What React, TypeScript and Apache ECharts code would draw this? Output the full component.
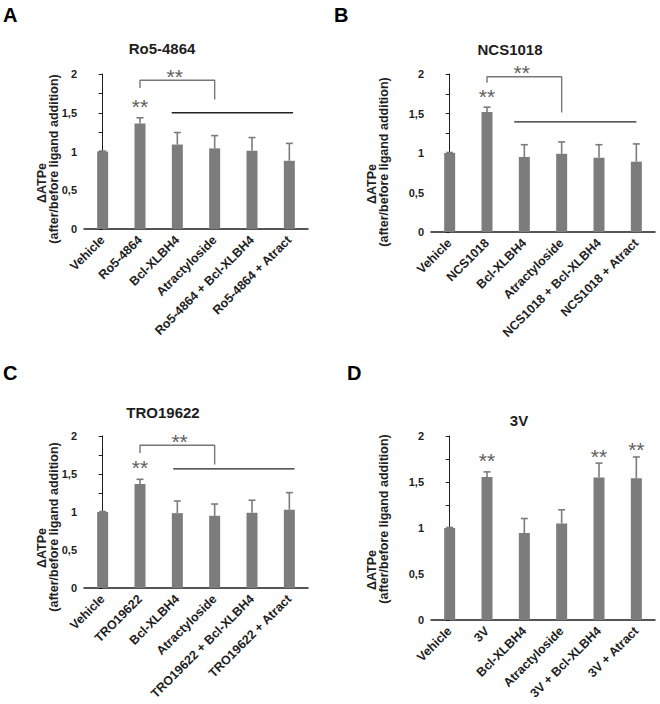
import React, { useEffect, useRef } from 'react';
import * as echarts from 'echarts';

// ---------- data ----------
const categoriesA = ['Vehicle', 'Ro5-4864', 'Bcl-XLBH4', 'Atractyloside', 'Ro5-4864 + Bcl-XLBH4', 'Ro5-4864 + Atract'];
const meansA = [1.0, 1.36, 1.09, 1.04, 1.01, 0.88];
const errA = [0.006, 0.075, 0.155, 0.165, 0.17, 0.225];
const bracketA = [[1, 1.82], [1, 1.92], [3, 1.92], [3, 1.67]];
const sigLineA = [[1.85, 1.5], [5.1, 1.5]];
const starsA = [[1.93, 2.04], [1, 1.66]];

const categoriesB = ['Vehicle', 'NCS1018', 'Bcl-XLBH4', 'Atractyloside', 'NCS1018 + Bcl-XLBH4', 'NCS1018 + Atract'];
const meansB = [1.0, 1.52, 0.95, 0.99, 0.94, 0.89];
const errB = [0.006, 0.06, 0.155, 0.15, 0.165, 0.225];
const bracketB = [[1, 1.89], [1, 1.966], [3, 1.966], [3, 1.513]];
const sigLineB = [[1.73, 1.394], [5.0, 1.394]];
const starsB = [[1.93, 2.09], [1, 1.79]];

const categoriesC = ['Vehicle', 'TRO19622', 'Bcl-XLBH4', 'Atractyloside', 'TRO19622 + Bcl-XLBH4', 'TRO19622 + Atract'];
const meansC = [1.0, 1.37, 0.985, 0.95, 0.99, 1.03];
const errC = [0.006, 0.06, 0.16, 0.155, 0.165, 0.225];
const bracketC = [[1, 1.777], [1, 1.878], [3, 1.878], [3, 1.624]];
const sigLineC = [[1.89, 1.568], [5.14, 1.568]];
const starsC = [[2.06, 2.01], [1, 1.66]];

const categoriesD = ['Vehicle', '3V', 'Bcl-XLBH4', 'Atractyloside', '3V + Bcl-XLBH4', '3V + Atract'];
const meansD = [1.0, 1.555, 0.945, 1.05, 1.55, 1.54];
const errD = [0.006, 0.055, 0.158, 0.148, 0.155, 0.232];
const bracketD: number[][] = [];
const sigLineD: number[][] = [];
const starsD = [[1, 1.8], [4, 1.84], [5, 1.92]];

const panelLetters = ['A', 'B', 'C', 'D'];
const panelTitles = ['Ro5-4864', 'NCS1018', 'TRO19622', '3V'];
const yTicks = [0, 0.5, 1, 1.5, 2];
const yNameLine1 = 'ΔATPe';
const yNameLine2 = '(after/before ligand addition)';
const starText = '**';

const FONT = '"Liberation Sans", Arial, sans-serif';
const BAR = '#7c7c7c';
const INK = '#1e1e1e';

const panels = [
  { cats: categoriesA, means: meansA, err: errA, bracket: bracketA, line: sigLineA, stars: starsA,
    grid: { left: 84, top: 74, width: 224, height: 155 }, letter: [3, 5], title: [162, 41],
    yn1: [42, 183], yn2: [54, 159] },
  { cats: categoriesB, means: meansB, err: errB, bracket: bracketB, line: sigLineB, stars: starsB,
    grid: { left: 431, top: 74, width: 224, height: 158 }, letter: [334, 5], title: [510, 42],
    yn1: [372, 184], yn2: [384, 162] },
  { cats: categoriesC, means: meansC, err: errC, bracket: bracketC, line: sigLineC, stars: starsC,
    grid: { left: 84, top: 436, width: 224, height: 152 }, letter: [3, 363], title: [163, 405],
    yn1: [42, 548], yn2: [54, 527] },
  { cats: categoriesD, means: meansD, err: errD, bracket: bracketD, line: sigLineD, stars: starsD,
    grid: { left: 431, top: 436, width: 224, height: 184 }, letter: [347, 363], title: [519, 413],
    yn1: [372, 570], yn2: [384, 519] },
];

export default function App() {
  const ref = useRef<HTMLDivElement>(null);
  useEffect(() => {
    if (!ref.current) return;
    const chart = echarts.init(ref.current, undefined, { renderer: 'svg' });
    const grid: any[] = [];
    const xAxis: any[] = [];
    const yAxis: any[] = [];
    const series: any[] = [];
    const title: any[] = [];
    const graphic: any[] = [];

    panels.forEach((p, i) => {
      grid.push({ ...p.grid, containLabel: false });
      xAxis.push({
        type: 'category', gridIndex: i, data: p.cats,
        axisLine: { lineStyle: { color: INK, width: 1.5 } },
        axisTick: { show: false },
        axisLabel: { rotate: 45, interval: 0, margin: 9, fontFamily: FONT, fontWeight: 'bold', fontSize: 12.5, color: INK },
      });
      xAxis.push({ type: 'value', gridIndex: i, min: -0.5, max: 5.5, show: false });
      yAxis.push({
        type: 'value', gridIndex: i, min: yTicks[0], max: yTicks[yTicks.length - 1], interval: 0.5,
        axisLine: { show: true, lineStyle: { color: INK, width: 1 } },
        axisTick: { show: true, length: 4, lineStyle: { color: INK } },
        minorTick: { show: true, splitNumber: 2, length: 4, lineStyle: { color: INK } },
        splitLine: { show: false },
        axisLabel: {
          margin: 7, fontFamily: FONT, fontWeight: 'bold', fontSize: 11, color: INK,
          formatter: (v: number) => String(v).replace('.', ','),
        },
      });
      series.push({
        type: 'bar', xAxisIndex: 2 * i, yAxisIndex: i, data: p.means, barWidth: 11,
        itemStyle: { color: BAR }, silent: true,
      });
      series.push({
        type: 'custom', xAxisIndex: 2 * i, yAxisIndex: i, z: 5,
        data: p.means.map((m, k) => [k, m, p.err[k]]),
        encode: { x: 0, y: 1 },
        renderItem: (params: any, api: any) => {
          const k = api.value(0);
          const m = api.value(1);
          const e = api.value(2);
          const b = api.coord([k, m]);
          const t = api.coord([k, m + e]);
          const st = { stroke: BAR, lineWidth: 1.6 };
          return {
            type: 'group',
            children: [
              { type: 'line', shape: { x1: b[0], y1: b[1], x2: t[0], y2: t[1] }, style: st },
              { type: 'line', shape: { x1: t[0] - 3.5, y1: t[1], x2: t[0] + 3.5, y2: t[1] }, style: st },
            ],
          };
        },
      });
      if (p.bracket.length) {
        series.push({
          type: 'line', xAxisIndex: 2 * i + 1, yAxisIndex: i, data: p.bracket, symbol: 'none',
          lineStyle: { color: '#777', width: 1.4 }, silent: true, z: 6,
        });
      }
      if (p.line.length) {
        series.push({
          type: 'line', xAxisIndex: 2 * i + 1, yAxisIndex: i, data: p.line, symbol: 'none',
          lineStyle: { color: '#222', width: 1.4 }, silent: true, z: 6,
        });
      }
      series.push({
        type: 'custom', xAxisIndex: 2 * i + 1, yAxisIndex: i, z: 7, clip: false, silent: true,
        data: p.stars,
        encode: { x: 0, y: 1 },
        renderItem: (params: any, api: any) => {
          const pt = api.coord([api.value(0), api.value(1)]);
          return {
            type: 'text', x: pt[0], y: pt[1] + 6,
            style: {
              text: starText, align: 'center', verticalAlign: 'middle',
              fontFamily: FONT, fontSize: 21, fill: '#606060',
            },
          };
        },
      });
      title.push({
        text: panelLetters[i], left: p.letter[0], top: p.letter[1], padding: 0,
        textStyle: { fontFamily: FONT, fontWeight: 'bold', fontSize: 20, color: '#000' },
      });
      title.push({
        text: panelTitles[i], left: p.title[0], top: p.title[1], padding: 0, textAlign: 'center',
        textStyle: { fontFamily: FONT, fontWeight: 'bold', fontSize: 15, color: INK },
      });
      graphic.push({
        type: 'text', x: p.yn1[0], y: p.yn1[1], rotation: Math.PI / 2,
        style: { text: yNameLine1, align: 'center', verticalAlign: 'middle', fontFamily: FONT, fontWeight: 'bold', fontSize: 12.5, fill: INK },
      });
      graphic.push({
        type: 'text', x: p.yn2[0], y: p.yn2[1], rotation: Math.PI / 2,
        style: { text: yNameLine2, align: 'center', verticalAlign: 'middle', fontFamily: FONT, fontWeight: 'bold', fontSize: 12.5, fill: INK },
      });
    });

    chart.setOption({
      animation: false,
      backgroundColor: '#fff',
      grid, xAxis, yAxis, series, title, graphic,
    });
    return () => chart.dispose();
  }, []);
  return <div ref={ref} style={{ position: 'fixed', left: 0, top: 0, width: 660, height: 704 }} />;
}
